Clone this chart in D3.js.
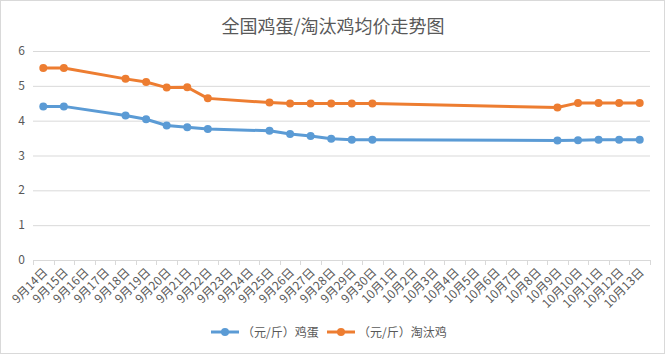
<!DOCTYPE html>
<html>
<head>
<meta charset="utf-8">
<script src="https://cdn.jsdelivr.net/npm/d3@7"></script>
<style>
  body { margin: 0; background: #fff; }
  text { font-family: "Noto Sans CJK SC", "Microsoft YaHei", sans-serif; fill: #595959; }
</style>
</head>
<body>
<div id="chart"></div>
<script>
// dates on the x axis
const dates = [
  "9月14日", "9月15日", "9月16日", "9月17日", "9月18日", "9月19日", "9月20日",
  "9月21日", "9月22日", "9月23日", "9月24日", "9月25日", "9月26日", "9月27日",
  "9月28日", "9月29日", "9月30日", "10月1日", "10月2日", "10月3日", "10月4日",
  "10月5日", "10月6日", "10月7日", "10月8日", "10月9日", "10月10日", "10月11日",
  "10月12日", "10月13日"
];
// null = no quote that day
const eggPrice = [
  4.41, 4.41, null, null, 4.15, 4.04, 3.86, 3.81, 3.76, null, null, 3.71, 3.62, 3.56,
  3.48, 3.45, 3.45, null, null, null, null, null, null, null, null, 3.43, 3.44, 3.45,
  3.45, 3.45
];
const henPrice = [
  5.51, 5.51, null, null, 5.20, 5.11, 4.95, 4.96, 4.64, null, null, 4.52, 4.49, 4.49,
  4.49, 4.49, 4.49, null, null, null, null, null, null, null, null, 4.38, 4.51, 4.51,
  4.51, 4.51
];
const yTicks = [0, 1, 2, 3, 4, 5, 6];
const seriesNames = ["（元/斤）鸡蛋", "（元/斤）淘汰鸡"];
const seriesColors = ["#5B9BD5", "#ED7D31"];

const svgWidth = 665, svgHeight = 354;
const margin = { top: 51, right: 15, bottom: 94, left: 33 };
const width = svgWidth - margin.left - margin.right;
const height = svgHeight - margin.top - margin.bottom;

let svg = d3.select("#chart").append("svg").
  attr("width", svgWidth).
  attr("height", svgHeight);

// chart border
svg.append("rect").
  attr("x", 0.5).attr("y", 0.5).
  attr("width", svgWidth - 1).attr("height", svgHeight - 1).
  attr("fill", "#fff").attr("stroke", "#d9d9d9");

svg.append("text").
  attr("x", 333).attr("y", 33).
  attr("text-anchor", "middle").
  style("font-size", "18px").
  text("全国鸡蛋/淘汰鸡均价走势图");

let g = svg.append("g").attr("transform", `translate(${margin.left},${margin.top})`);

let x = d3.scaleBand().domain(dates).range([0, width]);
let y = d3.scaleLinear().domain([0, 6]).range([height, 0]);

// gridlines
g.append("g").selectAll("line").
  data(yTicks.filter(t => t > 0)).
  join("line").
  attr("x1", 0).attr("x2", width).
  attr("y1", d => y(d) + 0.5).attr("y2", d => y(d) + 0.5).
  attr("stroke", "#d9d9d9");

// y labels
g.append("g").selectAll("text").
  data(yTicks).
  join("text").
  attr("x", -8).attr("y", d => y(d) + 4).
  attr("text-anchor", "end").
  style("font-size", "12px").
  text(d => d);

// x axis line and ticks at band edges
let xAxis = g.append("g").attr("transform", `translate(0,${height})`);
xAxis.append("line").
  attr("x1", 0).attr("x2", width).
  attr("y1", 0.5).attr("y2", 0.5).
  attr("stroke", "#d9d9d9");
xAxis.selectAll("line.tick").
  data(dates.concat(["end"])).
  join("line").
  attr("class", "tick").
  attr("x1", (d, i) => Math.round(i * x.step()) + 0.5).
  attr("x2", (d, i) => Math.round(i * x.step()) + 0.5).
  attr("y1", 0).attr("y2", 5).
  attr("stroke", "#d9d9d9");
xAxis.selectAll("text").
  data(dates).
  join("text").
  attr("transform", d => `translate(${x(d) + x.bandwidth() / 2 + 5},${13}) rotate(-45)`).
  attr("text-anchor", "end").
  style("font-size", "12px").
  text(d => d);

// series
const allSeries = [eggPrice, henPrice];
allSeries.forEach((values, k) => {
  const pts = values.map((v, i) => ({ date: dates[i], v })).filter(d => d.v !== null);
  const line = d3.line().
    x(d => x(d.date) + x.bandwidth() / 2).
    y(d => y(d.v));
  g.append("path").
    datum(pts).
    attr("d", line).
    attr("fill", "none").
    attr("stroke", seriesColors[k]).
    attr("stroke-width", 3).
    attr("stroke-linejoin", "round").
    attr("stroke-linecap", "round");
  g.append("g").selectAll("circle").
    data(pts).
    join("circle").
    attr("cx", d => x(d.date) + x.bandwidth() / 2).
    attr("cy", d => y(d.v)).
    attr("r", 4).
    attr("fill", seriesColors[k]);
});

// legend
const legendX = [211, 327];
let legend = svg.append("g");
seriesNames.forEach((name, k) => {
  legend.append("line").
    attr("x1", legendX[k]).attr("x2", legendX[k] + 28).
    attr("y1", 332).attr("y2", 332).
    attr("stroke", seriesColors[k]).attr("stroke-width", 3);
  legend.append("circle").
    attr("cx", legendX[k] + 14).attr("cy", 332).attr("r", 4).
    attr("fill", seriesColors[k]);
  legend.append("text").
    attr("x", legendX[k] + 31).attr("y", 336.5).
    style("font-size", "12px").
    text(name);
});
</script>
</body>
</html>
